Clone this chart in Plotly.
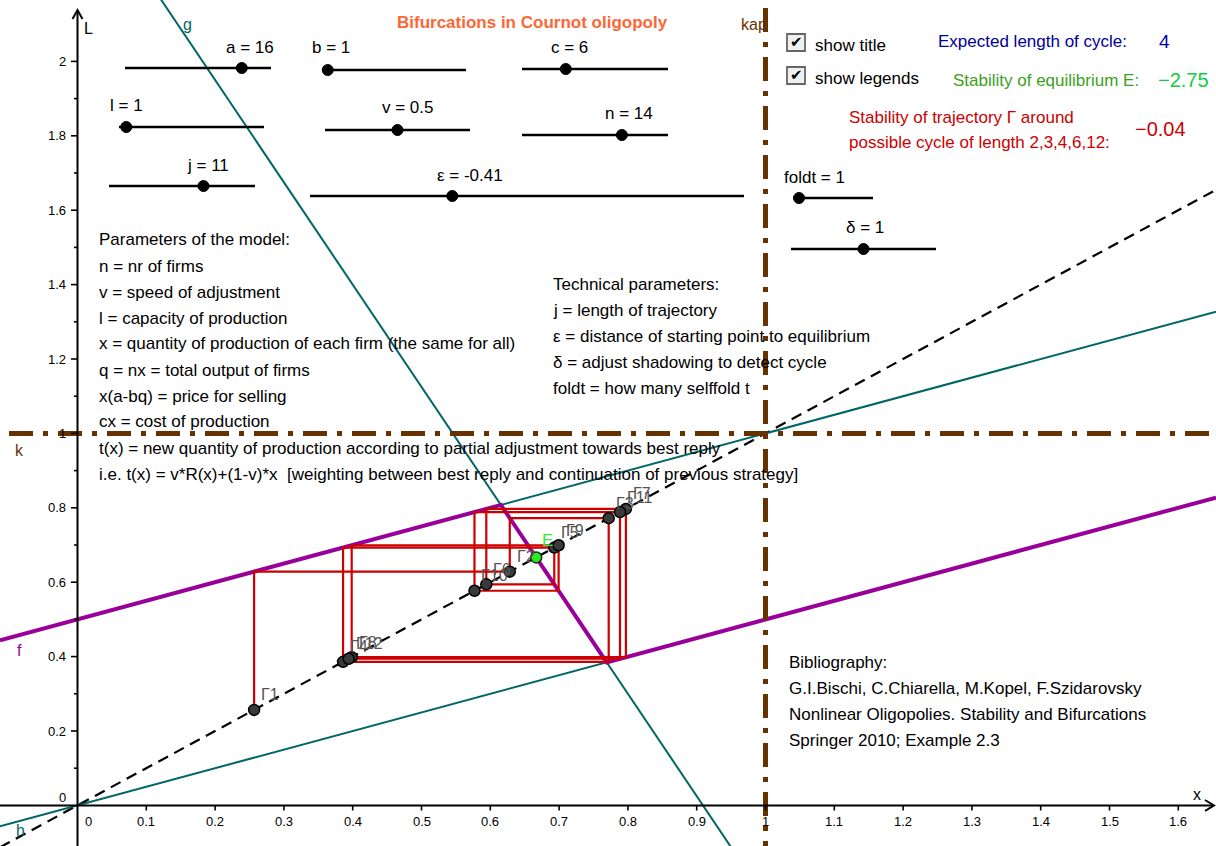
import plotly.graph_objects as go

# ---------------- data ----------------
# model parameters (slider values) and slider ranges
slider_names = ["a", "b", "c", "l", "v", "n", "j", "ε", "foldt", "δ"]
slider_values = [16, 1, 6, 1, 0.5, 14, 11, -0.41, 1, 1]
slider_min = [0, 0, 0, 0, 0, 1, 0, -1.0, 1, 0]
slider_max = [20, 25, 20, 20, 1, 20, 17, 0.8, 5, 2]

# straight lines: g (best-reply branch of t), upper and lower partial-adjustment lines
line_names = ["g", "upper", "h"]
line_intercepts = [2.5, 0.5, 0.0]
line_slopes = [-2.75, 0.5, 0.5]

# kinks of the map t(x)
t_break_x = [0.6154, 0.7692]
t_break_y = [0.8077, 0.3846]

# equilibrium E
eq_x, eq_y = 0.6667, 0.6667

# trajectory Γ1 ... Γ12
trajectory = [0.2567, 0.6283, 0.7721, 0.3860, 0.6930, 0.5942,
              0.7971, 0.3985, 0.6993, 0.5770, 0.7885, 0.3942]

# axis tick labels
x_ticks = [0.1, 0.2, 0.3, 0.4, 0.5, 0.6, 0.7, 0.8, 0.9, 1.0,
           1.1, 1.2, 1.3, 1.4, 1.5, 1.6]
x_tick_text = ["0.1", "0.2", "0.3", "0.4", "0.5", "0.6", "0.7", "0.8", "0.9", "1",
               "1.1", "1.2", "1.3", "1.4", "1.5", "1.6"]
y_ticks = [0.2, 0.4, 0.6, 0.8, 1.0, 1.2, 1.4, 1.6, 1.8, 2.0]
y_tick_text = ["0.2", "0.4", "0.6", "0.8", "1", "1.2", "1.4", "1.6", "1.8", "2"]
y_minor = [0.1, 0.3, 0.5, 0.7, 0.9, 1.1, 1.3, 1.5, 1.7, 1.9]

# texts
params_text = [
    "Parameters of the model:",
    "n = nr of firms",
    "v = speed of adjustment",
    "l = capacity of production",
    "x = quantity of production of each firm (the same for all)",
    "q = nx = total output of firms",
    "x(a-bq) = price for selling",
    "cx = cost of production",
    "t(x) = new quantity of production according to partial adjustment towards best reply",
    "i.e. t(x) = v*R(x)+(1-v)*x\u00a0 [weighting between best reply and continuation of previous strategy]",
]
tech_text = [
    "Technical parameters:",
    "j = length of trajectory",
    "ε = distance of starting point to equilibrium",
    "δ = adjust shadowing to detect cycle",
    "foldt = how many selffold t",
]
biblio_text = [
    "Bibliography:",
    "G.I.Bischi, C.Chiarella, M.Kopel, F.Szidarovsky",
    "Nonlinear Oligopolies. Stability and Bifurcations",
    "Springer 2010; Example 2.3",
]
checkbox_text = ["show title", "show legends"]
expected_cycle = 4
stability_E = -2.75
stability_traj = -0.04

# ---------------- geometry of the view ----------------
W, H = 1216, 846
X0_PX, Y0_PX = 77.5, 805.4      # pixel position of the origin
SX, SY = 688.0, 372.0           # pixels per unit
xmin, xmax = -X0_PX / SX, (W - X0_PX) / SX
ymin, ymax = -(H - Y0_PX) / SY, Y0_PX / SY

FONT = "Liberation Sans, Arial, Helvetica, sans-serif"
TEAL = "rgb(0,102,102)"
MAGENTA = "rgb(153,0,153)"
BROWN = "rgb(102,51,0)"
RED = "rgb(204,0,0)"


def px(p):
    return p / W


def py(p):
    return 1 - p / H


def dy(p):
    """pixel row -> data y"""
    return (Y0_PX - p) / SY


def dx(p):
    """pixel column -> data x"""
    return (p - X0_PX) / SX


fig = go.Figure()

# diagonal y = x
fig.add_trace(go.Scatter(x=[xmin, xmax], y=[xmin, xmax], mode="lines",
                         line=dict(color="black", width=2.2, dash="11px,7px"),
                         hoverinfo="skip"))

# teal lines
for b0, m in zip(line_intercepts, line_slopes):
    fig.add_trace(go.Scatter(x=[xmin, xmax], y=[b0 + m * xmin, b0 + m * xmax],
                             mode="lines", line=dict(color=TEAL, width=2),
                             hoverinfo="skip"))

# map t(x): upper branch, best-reply branch, lower branch
t_x = [xmin] + t_break_x + [xmax]
t_y = ([line_intercepts[1] + line_slopes[1] * xmin] + t_break_y
       + [line_intercepts[2] + line_slopes[2] * xmax])
fig.add_trace(go.Scatter(x=t_x, y=t_y, mode="lines",
                         line=dict(color=MAGENTA, width=4), hoverinfo="skip"))

# cobweb of the trajectory
cx, cy = [], []
for k in range(len(trajectory) - 1):
    cx += [trajectory[k], trajectory[k]]
    cy += [trajectory[k], trajectory[k + 1]]
cx.append(trajectory[-1])
cy.append(trajectory[-1])
fig.add_trace(go.Scatter(x=cx, y=cy, mode="lines",
                         line=dict(color=RED, width=2.2), hoverinfo="skip"))

# brown lines k (y = 1) and kap (x = 1)
brown_dash = "24px,10px,5px,10px"
fig.add_trace(go.Scatter(x=[xmin + 9 / SX, xmax], y=[1, 1], mode="lines",
                         line=dict(color=BROWN, width=5, dash=brown_dash),
                         hoverinfo="skip"))
fig.add_trace(go.Scatter(x=[1, 1], y=[ymax - 8 / SY, ymin], mode="lines",
                         line=dict(color=BROWN, width=5, dash=brown_dash),
                         hoverinfo="skip"))

# trajectory points
fig.add_trace(go.Scatter(x=trajectory, y=trajectory, mode="markers",
                         marker=dict(size=11, color="#3a3a3a",
                                     line=dict(color="black", width=1.5)),
                         hoverinfo="skip"))
# equilibrium
fig.add_trace(go.Scatter(x=[eq_x], y=[eq_y], mode="markers",
                         marker=dict(size=11, color="#22ee22",
                                     line=dict(color="#222222", width=1.5)),
                         hoverinfo="skip"))

shapes = []
ann = []

# ---------------- axes ----------------
shapes.append(dict(type="line", xref="x", yref="y", x0=0, x1=0,
                   y0=ymin, y1=dy(11), line=dict(color="black", width=2)))
shapes.append(dict(type="line", xref="x", yref="y", x0=xmin, x1=dx(1213),
                   y0=0, y1=0, line=dict(color="black", width=2)))
# arrow heads
shapes.append(dict(type="path", xref="paper", yref="paper",
                   path=f"M {px(72.5)} {py(19)} L {px(77.5)} {py(10)} L {px(82.5)} {py(19)}",
                   line=dict(color="black", width=2)))
shapes.append(dict(type="path", xref="paper", yref="paper",
                   path=f"M {px(1205)} {py(800)} L {px(1214)} {py(805.4)} L {px(1205)} {py(811)}",
                   line=dict(color="black", width=2)))
for t in y_ticks:
    shapes.append(dict(type="line", xref="paper", yref="y", x0=px(71), x1=px(77.5),
                       y0=t, y1=t, line=dict(color="black", width=1.6)))
for t in y_minor:
    shapes.append(dict(type="line", xref="paper", yref="y", x0=px(74), x1=px(77.5),
                       y0=t, y1=t, line=dict(color="black", width=1.6)))
for t in x_ticks:
    shapes.append(dict(type="line", xref="x", yref="paper", x0=t, x1=t,
                       y0=py(805.4), y1=py(810.5), line=dict(color="black", width=1.6)))

tick_font = dict(family=FONT, size=13, color="black")
for t, s in zip(x_ticks, x_tick_text):
    ann.append(dict(x=t, y=py(821), xref="x", yref="paper", text=s, showarrow=False,
                    xanchor="center", yanchor="middle", font=tick_font))
ann.append(dict(x=px(88), y=py(821), xref="paper", yref="paper", text="0", showarrow=False,
                xanchor="center", yanchor="middle", font=tick_font))
for t, s in zip(y_ticks, y_tick_text):
    ann.append(dict(x=px(68), y=t, xref="paper", yref="y", text=s, showarrow=False,
                    xanchor="right", yanchor="middle", font=tick_font))
ann.append(dict(x=px(68), y=py(797), xref="paper", yref="paper", text="0", showarrow=False,
                xanchor="right", yanchor="middle", font=tick_font))
ann.append(dict(x=px(88), y=py(28), xref="paper", yref="paper", text="L", showarrow=False,
                xanchor="center", yanchor="middle", font=dict(family=FONT, size=16, color="black")))
ann.append(dict(x=px(1197), y=py(794), xref="paper", yref="paper", text="x", showarrow=False,
                xanchor="center", yanchor="middle", font=dict(family=FONT, size=16, color="black")))

# object labels
for txt, xx, yy, col in [("g", 187, 24, TEAL), ("kap", 754, 24, BROWN), ("k", 19, 450, BROWN),
                         ("f", 19, 650, MAGENTA), ("h", 20, 830, TEAL)]:
    ann.append(dict(x=px(xx), y=py(yy), xref="paper", yref="paper", text=txt, showarrow=False,
                    xanchor="center", yanchor="middle", font=dict(family=FONT, size=16, color=col)))

# trajectory labels
for i, v in enumerate(trajectory):
    ann.append(dict(x=v, y=v, xref="x", yref="y", text=f"Γ{i + 1}", showarrow=False,
                    xanchor="left", yanchor="middle", xshift=5, yshift=15,
                    font=dict(family=FONT, size=16, color="#555555")))
ann.append(dict(x=eq_x, y=eq_y, xref="x", yref="y", text="E", showarrow=False,
                xanchor="left", yanchor="middle", xshift=4, yshift=17,
                font=dict(family=FONT, size=17, color="#33ee33")))

# ---------------- sliders ----------------
# (left px, right px, row px, label centre px, label row px)
slider_geom = [
    (125, 271, 68, 250, 47),
    (322, 466, 70, 331, 47),
    (522, 668, 69, 569, 48),
    (119, 264, 127, 126, 105),
    (325, 470, 130, 408, 108),
    (522, 668, 135, 629, 114),
    (109, 255, 186, 208, 166),
    (310, 744, 196, 470, 175),
    (799, 873, 198, 814, 177),
    (791, 936, 249, 865, 228),
]
for name, val, lo, hi, (l, r, row, lc, lr) in zip(slider_names, slider_values,
                                                  slider_min, slider_max, slider_geom):
    shapes.append(dict(type="line", xref="paper", yref="paper", x0=px(l), x1=px(r),
                       y0=py(row), y1=py(row), line=dict(color="black", width=2.5)))
    cxp = l + (val - lo) / (hi - lo) * (r - l)
    rad = 5.5
    shapes.append(dict(type="circle", xref="paper", yref="paper",
                       x0=px(cxp - rad), x1=px(cxp + rad), y0=py(row + rad), y1=py(row - rad),
                       fillcolor="black", line=dict(color="black", width=1)))
    ann.append(dict(x=px(lc), y=py(lr), xref="paper", yref="paper", text=f"{name} = {val}",
                    showarrow=False, xanchor="center", yanchor="middle",
                    font=dict(family=FONT, size=17, color="black")))

# ---------------- checkboxes ----------------
for i, s in enumerate(checkbox_text):
    top = 34 + 33 * i
    shapes.append(dict(type="rect", xref="paper", yref="paper",
                       x0=px(787), x1=px(805), y0=py(top + 17), y1=py(top),
                       fillcolor="#f0f0f0", line=dict(color="#666666", width=1.8)))
    ann.append(dict(x=px(796), y=py(top + 8), xref="paper", yref="paper", text="✔",
                    showarrow=False, xanchor="center", yanchor="middle",
                    font=dict(family="DejaVu Sans", size=15, color="black")))
    ann.append(dict(x=px(813), y=py(top + 11), xref="paper", yref="paper", text=s,
                    showarrow=False, xanchor="left", yanchor="middle",
                    font=dict(family=FONT, size=17, color="black")))

# ---------------- text blocks ----------------
def text_block(lines, left, top, color="black"):
    for i, s in enumerate(lines):
        ann.append(dict(x=px(left), y=py(top + 26 * i), xref="paper", yref="paper", text=s,
                        showarrow=False, xanchor="left", yanchor="middle",
                        font=dict(family=FONT, size=17, color=color)))


text_block(params_text, 97, 240)
text_block(tech_text, 551, 284)
text_block(biblio_text, 787, 662)

ann.append(dict(x=px(532), y=py(23), xref="paper", yref="paper",
                text="<b>Bifurcations in Cournot oligopoly</b>", showarrow=False,
                xanchor="center", yanchor="middle",
                font=dict(family=FONT, size=17, color="rgb(255,102,51)")))

ann.append(dict(x=px(936), y=py(42), xref="paper", yref="paper", text="Expected length of cycle:",
                showarrow=False, xanchor="left", yanchor="middle",
                font=dict(family=FONT, size=17, color="rgb(0,0,153)")))
ann.append(dict(x=px(1164), y=py(42), xref="paper", yref="paper", text=str(expected_cycle),
                showarrow=False, xanchor="center", yanchor="middle",
                font=dict(family=FONT, size=19, color="rgb(0,0,170)")))
ann.append(dict(x=px(951), y=py(80), xref="paper", yref="paper", text="Stability of equilibrium E:",
                showarrow=False, xanchor="left", yanchor="middle",
                font=dict(family=FONT, size=17, color="rgb(60,160,30)")))
ann.append(dict(x=px(1156), y=py(80), xref="paper", yref="paper",
                text=f"{stability_E:.2f}".replace("-", "\u2212"),
                showarrow=False, xanchor="left", yanchor="middle",
                font=dict(family=FONT, size=20, color="rgb(17,204,68)")))
text_block(["Stability of trajectory Γ around", "possible cycle of length 2,3,4,6,12:"],
           847, 117, color=RED)
ann.append(dict(x=px(1133), y=py(129), xref="paper", yref="paper",
                text=f"{stability_traj:.2f}".replace("-", "\u2212"),
                showarrow=False, xanchor="left", yanchor="middle",
                font=dict(family=FONT, size=20, color=RED)))

fig.update_layout(
    width=W, height=H,
    margin=dict(l=0, r=0, t=0, b=0),
    paper_bgcolor="white", plot_bgcolor="white",
    showlegend=False,
    xaxis=dict(range=[xmin, xmax], visible=False, fixedrange=True),
    yaxis=dict(range=[ymin, ymax], visible=False, fixedrange=True),
    shapes=shapes,
    annotations=ann,
)

fig.write_html("out.html")
